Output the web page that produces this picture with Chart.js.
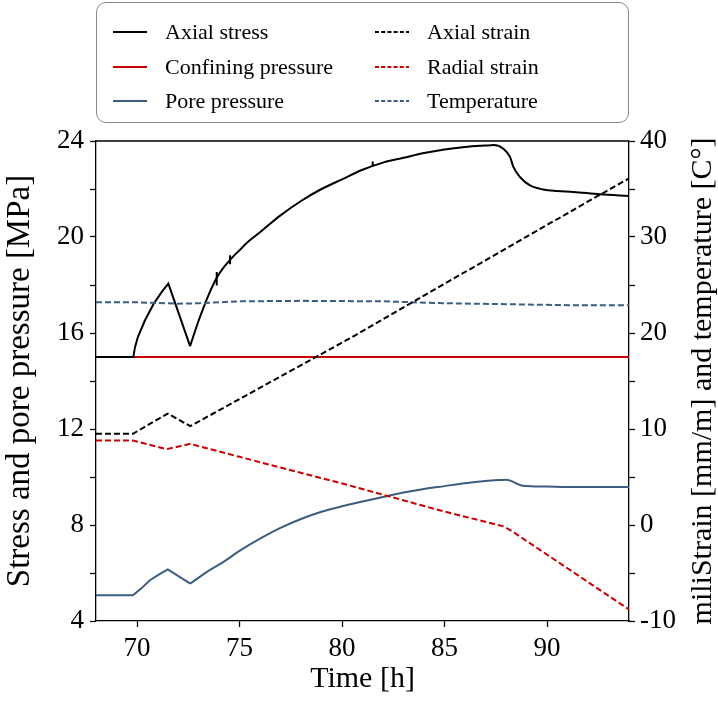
<!DOCTYPE html>
<html>
<head>
<meta charset="utf-8">
<script src="https://cdn.jsdelivr.net/npm/chart.js@4.4.1/dist/chart.umd.min.js"></script>
<style>
  html, body { margin: 0; padding: 0; background: #fff; }
  #wrap { position: relative; width: 718px; height: 708px; }
  #legend {
    position: absolute; left: 96px; top: 2px; width: 533px; height: 121px;
    border: 1.5px solid #8a8a8a; border-radius: 10px; box-sizing: border-box;
    font-family: "Liberation Serif", serif; font-size: 22px; color: #000;
  }
  .item { position: absolute; height: 24px; display: flex; align-items: center; white-space: nowrap; }
  .item svg { margin-right: 18px; }
</style>
</head>
<body>
<div id="wrap">
  <canvas id="plotCanvas" width="718" height="708"></canvas>
  <div id="legend"></div>
</div>
<script>
// time [h] and values
// axial stress: loading/unloading cycle, then the smooth creep + failure part
const stressTimeA = [68, 69.82, 69.9, 70.05, 70.39, 70.8, 71.2, 71.53, 72.59];
const axialStressA = [15.0, 15.0, 15.4, 15.85, 16.53, 17.2, 17.7, 18.06, 15.45];
const stressTimeB = [72.59, 72.8, 73.0, 73.24, 73.5, 73.89, 74.2, 74.54, 75.0, 75.5, 76, 77, 78, 79, 80, 81, 82, 83,
  84, 85, 86, 87, 87.4, 87.87, 88.2, 88.36, 88.68, 89.17, 89.82, 90.5, 91.28, 92.59, 94];
const axialStressB = [15.45, 16.0, 16.5, 17.05, 17.6, 18.3, 18.7, 19.05, 19.45, 19.86, 20.2, 20.9, 21.5, 22.0, 22.4,
  22.8, 23.1, 23.3, 23.5, 23.65, 23.75, 23.81, 23.83, 23.68, 23.33, 22.92, 22.5, 22.15, 21.98, 21.92, 21.88, 21.78, 21.71];
// small spikes on the stress record
const spikeTime = [73.89, 73.89, null, 74.54, 74.54, null, 81.5, 81.5];
const spikeStress = [17.98, 18.54, null, 18.86, 19.24, null, 22.95, 23.15];

const confTime = [68, 94];
const confiningPressure = [15.0, 15.0];

const poreTimeA = [68, 69.8, 70.2, 70.63, 71.1, 71.5, 72.6];
const porePressureA = [5.07, 5.07, 5.35, 5.7, 5.95, 6.15, 5.56];
const poreTimeB = [72.6, 73.4, 74.2, 75, 76, 77, 78, 79, 80, 81, 82, 83, 84, 85, 86, 87, 88];
const porePressureB = [5.56, 6.04, 6.45, 6.92, 7.43, 7.88, 8.25, 8.55, 8.78, 8.98, 9.17, 9.35, 9.5, 9.62, 9.74, 9.83, 9.89];
const poreTimeC = [88, 88.2, 88.8, 90, 91, 94];
const porePressureC = [9.89, 9.85, 9.64, 9.6, 9.58, 9.58];

const axStrainTime = [68, 69.8, 71.5, 72.6, 76.6, 80.6, 84, 88, 92, 94];
const axialStrain = [9.5, 9.5, 11.6, 10.3, 15.0, 19.7, 23.9, 28.8, 33.7, 36.1];

const radStrainTime = [68, 69.8, 71.45, 72.6, 75, 80.4, 84.9, 87.9, 88.4, 94];
const radialStrain = [8.8, 8.8, 7.9, 8.45, 7.1, 4.1, 1.45, -0.15, -0.8, -8.8];

const tempTime = [68, 70, 72, 73, 75, 78, 82, 85, 88, 91, 94];
const temperature = [23.2, 23.2, 23.05, 23.1, 23.3, 23.35, 23.3, 23.1, 23.0, 22.9, 22.9];

const xTicks = [70, 75, 80, 85, 90];

const BLACK = '#000000', RED = '#cc0000', BLUE = '#3b5d7f';
const FONT = '"Liberation Serif", serif';
const DASH = [6, 3];

function pts(xs, ys) { return xs.map((x, i) => ({ x: x === null ? NaN : x, y: ys[i] })); }

const legendItems = [
  { label: 'Axial stress', color: BLACK, dashed: false },
  { label: 'Confining pressure', color: RED, dashed: false },
  { label: 'Pore pressure', color: BLUE, dashed: false },
  { label: 'Axial strain', color: BLACK, dashed: true },
  { label: 'Radial strain', color: RED, dashed: true },
  { label: 'Temperature', color: BLUE, dashed: true }
];

function buildLegend() {
  const box = document.getElementById('legend');
  const cols = [16, 278], rows = [17, 52, 86];
  legendItems.forEach((s, i) => {
    const el = document.createElement('div');
    el.className = 'item';
    el.style.left = cols[Math.floor(i / 3)] + 'px';
    el.style.top = rows[i % 3] + 'px';
    const dash = s.dashed ? 'stroke-dasharray="4,2.2"' : '';
    el.innerHTML = `<svg width="34" height="4"><line x1="0" y1="2" x2="34" y2="2" stroke="${s.color}" stroke-width="2" ${dash}/></svg>` + s.label;
    box.appendChild(el);
  });
}

function line(xs, ys, color, axis, dash, smooth) {
  return {
    data: pts(xs, ys), yAxisID: axis, borderColor: color, borderWidth: 2, borderDash: dash || [],
    pointRadius: 0, tension: 0, fill: false, spanGaps: false,
    cubicInterpolationMode: smooth ? 'monotone' : 'default'
  };
}

// top frame line and the right-hand title (reads bottom to top)
const frame = {
  id: 'frame',
  afterDraw(c) {
    const a = c.chartArea, ctx = c.ctx;
    ctx.save();
    ctx.strokeStyle = '#000';
    ctx.lineWidth = 1.3;
    ctx.beginPath();
    ctx.moveTo(a.left, a.top);
    ctx.lineTo(a.right, a.top);
    ctx.stroke();
    ctx.translate(703, (a.top + a.bottom) / 2);
    ctx.rotate(-Math.PI / 2);
    ctx.fillStyle = '#000';
    ctx.font = '30px ' + FONT;
    ctx.textAlign = 'center';
    ctx.textBaseline = 'middle';
    ctx.fillText('miliStrain [mm/m] and temperature [C°]', 0, 0);
    ctx.restore();
  }
};

function initChart() {
  const ctx = document.getElementById('plotCanvas').getContext('2d');
  new Chart(ctx, {
    type: 'line',
    data: {
      datasets: [
        line(axStrainTime, axialStrain, BLACK, 'yR', DASH),
        line(radStrainTime, radialStrain, RED, 'yR', DASH),
        line(tempTime, temperature, BLUE, 'yR', DASH),
        line(stressTimeA, axialStressA, BLACK, 'yL'),
        line(stressTimeB, axialStressB, BLACK, 'yL', null, true),
        line(spikeTime, spikeStress, BLACK, 'yL'),
        line(confTime, confiningPressure, RED, 'yL'),
        line(poreTimeA, porePressureA, BLUE, 'yL'),
        line(poreTimeB, porePressureB, BLUE, 'yL', null, true),
        line(poreTimeC, porePressureC, BLUE, 'yL', null, true)
      ]
    },
    options: {
      responsive: false, animation: false, events: [],
      layout: { padding: { top: 141, left: 0, right: 0, bottom: 0 } },
      plugins: { legend: { display: false }, tooltip: { enabled: false } },
      scales: {
        x: {
          type: 'linear', min: 68, max: 94,
          afterBuildTicks: s => { s.ticks = xTicks.map(v => ({ value: v })); },
          afterFit: s => { s.height = 87; },
          grid: { drawOnChartArea: false, tickLength: 6, tickColor: '#000', tickWidth: 1.3 },
          border: { color: '#000', width: 1.3 },
          ticks: { color: '#000', font: { family: FONT, size: 27 }, padding: 6, maxRotation: 0 },
          title: { display: true, text: 'Time [h]', color: '#000', font: { family: FONT, size: 30 }, padding: { top: 0, bottom: 11 } }
        },
        yL: {
          type: 'linear', position: 'left', min: 4, max: 24,
          afterFit: s => { s.width = 96; },
          grid: { drawOnChartArea: false, tickLength: 6, tickColor: '#000', tickWidth: 1.3 },
          border: { color: '#000', width: 1.3 },
          ticks: { stepSize: 2, color: '#000', font: { family: FONT, size: 27 }, padding: 6,
            callback: v => (v % 4 === 0 ? v : '') },
          title: { display: true, text: 'Stress and pore pressure [MPa]', color: '#000', font: { family: FONT, size: 33 }, padding: { top: 1, bottom: 0 } }
        },
        yR: {
          type: 'linear', position: 'right', min: -10, max: 40,
          afterFit: s => { s.width = 89; },
          grid: { drawOnChartArea: false, tickLength: 6, tickColor: '#000', tickWidth: 1.3 },
          border: { color: '#000', width: 1.3 },
          ticks: { stepSize: 5, color: '#000', font: { family: FONT, size: 27 }, padding: 5,
            callback: v => (v % 10 === 0 ? v : '') }
        }
      }
    },
    plugins: [frame]
  });
}

buildLegend();
initChart();
</script>
</body>
</html>
